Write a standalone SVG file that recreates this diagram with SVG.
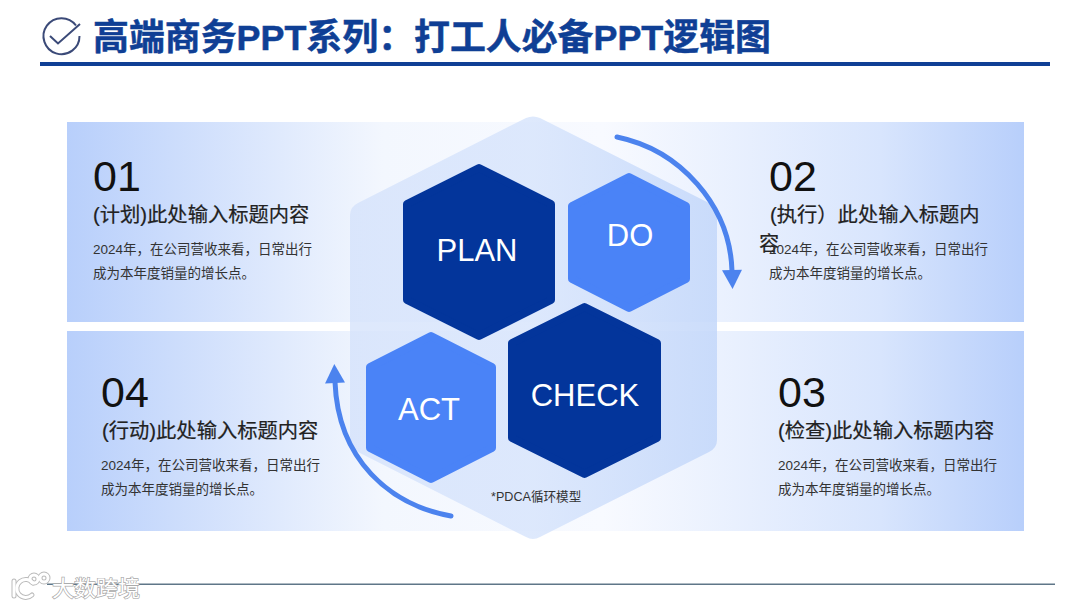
<svg xmlns="http://www.w3.org/2000/svg" width="1080" height="608" viewBox="0 0 1080 608">
<style>
text{font-family:"Liberation Sans","Noto Sans CJK SC",sans-serif}
.cjk{font-family:"Noto Sans CJK SC","Liberation Sans",sans-serif}
.num{font-size:43px;fill:#111}
.sub{font-size:20.3px;fill:#222;stroke:#222;stroke-width:.2}
.body{font-size:13.5px;fill:#333}
.hl{fill:#fff;text-anchor:middle;font-size:31px}
.dark{fill:#03359b;stroke:#03359b;stroke-width:8;stroke-linejoin:round}
.light{fill:#4a83f7;stroke:#4a83f7;stroke-width:8;stroke-linejoin:round}
.arc{fill:none;stroke:#4c83ee;stroke-width:5;stroke-linecap:round}
</style>
<defs>
<linearGradient id="pg" x1="0" y1="0" x2="1" y2="0">
<stop offset="0" stop-color="#b8cffb"/><stop offset=".33" stop-color="#f3f7fe"/><stop offset=".56" stop-color="#f8faff"/><stop offset=".85" stop-color="#d8e5fd"/><stop offset="1" stop-color="#b8cffb"/>
</linearGradient>
<linearGradient id="hg" x1="0" y1="0" x2="1" y2="0">
<stop offset="0" stop-color="#d3e1fb" stop-opacity=".75"/><stop offset=".5" stop-color="#d8e5fc" stop-opacity=".85"/><stop offset="1" stop-color="#c3d7fa" stop-opacity=".85"/>
</linearGradient>
<marker id="ah" viewBox="0 0 20 20" refX="2" refY="10" markerWidth="20" markerHeight="20" markerUnits="userSpaceOnUse" orient="auto">
<path d="M1 0L20 10L1 20Z" fill="#4c83ee"/>
</marker>
</defs>
<rect width="1080" height="608" fill="#fff"/>
<g id="header">
<path d="M76 25.5A18 18 0 1 0 79.5 36" fill="none" stroke="#3b4a78" stroke-width="2"/>
<path d="M50 36L58 43.5L80 24" fill="none" stroke="#3b4a78" stroke-width="2"/>
<text x="93" y="50" font-size="35.9" font-weight="700" fill="#0f3f95" stroke="#0f3f95" stroke-width=".5">高端商务PPT系列：打工人必备PPT逻辑图</text>
<rect x="40" y="62" width="1010" height="4" fill="#0f3f95"/>
</g>
<rect x="67" y="122" width="957" height="200" fill="url(#pg)"/>
<rect x="67" y="331" width="957" height="200" fill="url(#pg)"/>
<path id="backdrop" d="M526 118Q533 115 540 118L709 203Q717 207 717 215V440Q717 448 709 452L540 537Q533 541 526 537L358 452Q350 448 350 440V215Q350 207 358 203Z" fill="url(#hg)"/>
<g id="panel-01">
<text class="num" x="93" y="191">01</text>
<text class="sub" x="93" y="222">(计划)此处输入标题内容</text>
<text class="body" x="93" y="254">2024年，在公司营收来看，日常出行</text>
<text class="body" x="93" y="278">成为本年度销量的增长点。</text>
</g>
<g id="panel-02">
<text class="num" x="769" y="191">02</text>
<text class="sub" x="770" y="222">(执行）此处输入标题内</text>
<text class="sub" x="759" y="251">容</text>
<text class="body" x="769" y="254">2024年，在公司营收来看，日常出行</text>
<text class="body" x="769" y="278">成为本年度销量的增长点。</text>
</g>
<g id="panel-03">
<text class="num" x="778" y="407">03</text>
<text class="sub" x="778" y="438">(检查)此处输入标题内容</text>
<text class="body" x="778" y="470">2024年，在公司营收来看，日常出行</text>
<text class="body" x="778" y="494">成为本年度销量的增长点。</text>
</g>
<g id="panel-04">
<text class="num" x="101" y="407">04</text>
<text class="sub" x="102" y="438">(行动)此处输入标题内容</text>
<text class="body" x="101" y="470">2024年，在公司营收来看，日常出行</text>
<text class="body" x="101" y="494">成为本年度销量的增长点。</text>
</g>
<g id="node-plan">
<polygon class="dark" points="479,168 551,204 551,300 479,336 407,300 407,204"/>
<text class="hl" x="477" y="261">PLAN</text>
</g>
<g id="node-do">
<polygon class="light" points="629,177 686,206 686,279 629,308 572,279 572,206"/>
<text class="hl" x="630" y="246">DO</text>
</g>
<g id="node-check">
<polygon class="dark" points="584.5,307 657,343 657,438 584.5,474 512,438 512,343"/>
<text class="hl" x="585" y="406">CHECK</text>
</g>
<g id="node-act">
<polygon class="light" points="431,336 492,367 492,448 431,479 370,448 370,367"/>
<text class="hl" x="429" y="420">ACT</text>
</g>
<g id="connectors">
<path class="arc" d="M617 137C680 150 730 205 732 271" marker-end="url(#ah)"/>
<path class="arc" d="M451 516C390 505 338 460 335 382" marker-end="url(#ah)"/>
</g>
<text id="caption" x="491" y="501" font-size="12.6" fill="#333">*PDCA循环模型</text>
<rect id="footer-line" x="47" y="583.5" width="1008" height="1.5" fill="#5f7688"/>
<g id="watermark">
<g fill="none" stroke="#bbb" stroke-width="5" stroke-linecap="round">
<path d="M14 581V596"/><path d="M33 583A9 9 0 1 0 32 595"/><circle cx="34" cy="579" r="4"/><circle cx="44" cy="578" r="4"/>
</g>
<g fill="none" stroke="#fff" stroke-width="3" stroke-linecap="round">
<path d="M14 581V596"/><path d="M33 583A9 9 0 1 0 32 595"/><circle cx="34" cy="579" r="4"/><circle cx="44" cy="578" r="4"/>
</g>
<text class="cjk" x="52" y="596" font-size="22" fill="#fff" stroke="#aaa" stroke-width="1.4" paint-order="stroke">大数跨境</text>
</g>
</svg>
